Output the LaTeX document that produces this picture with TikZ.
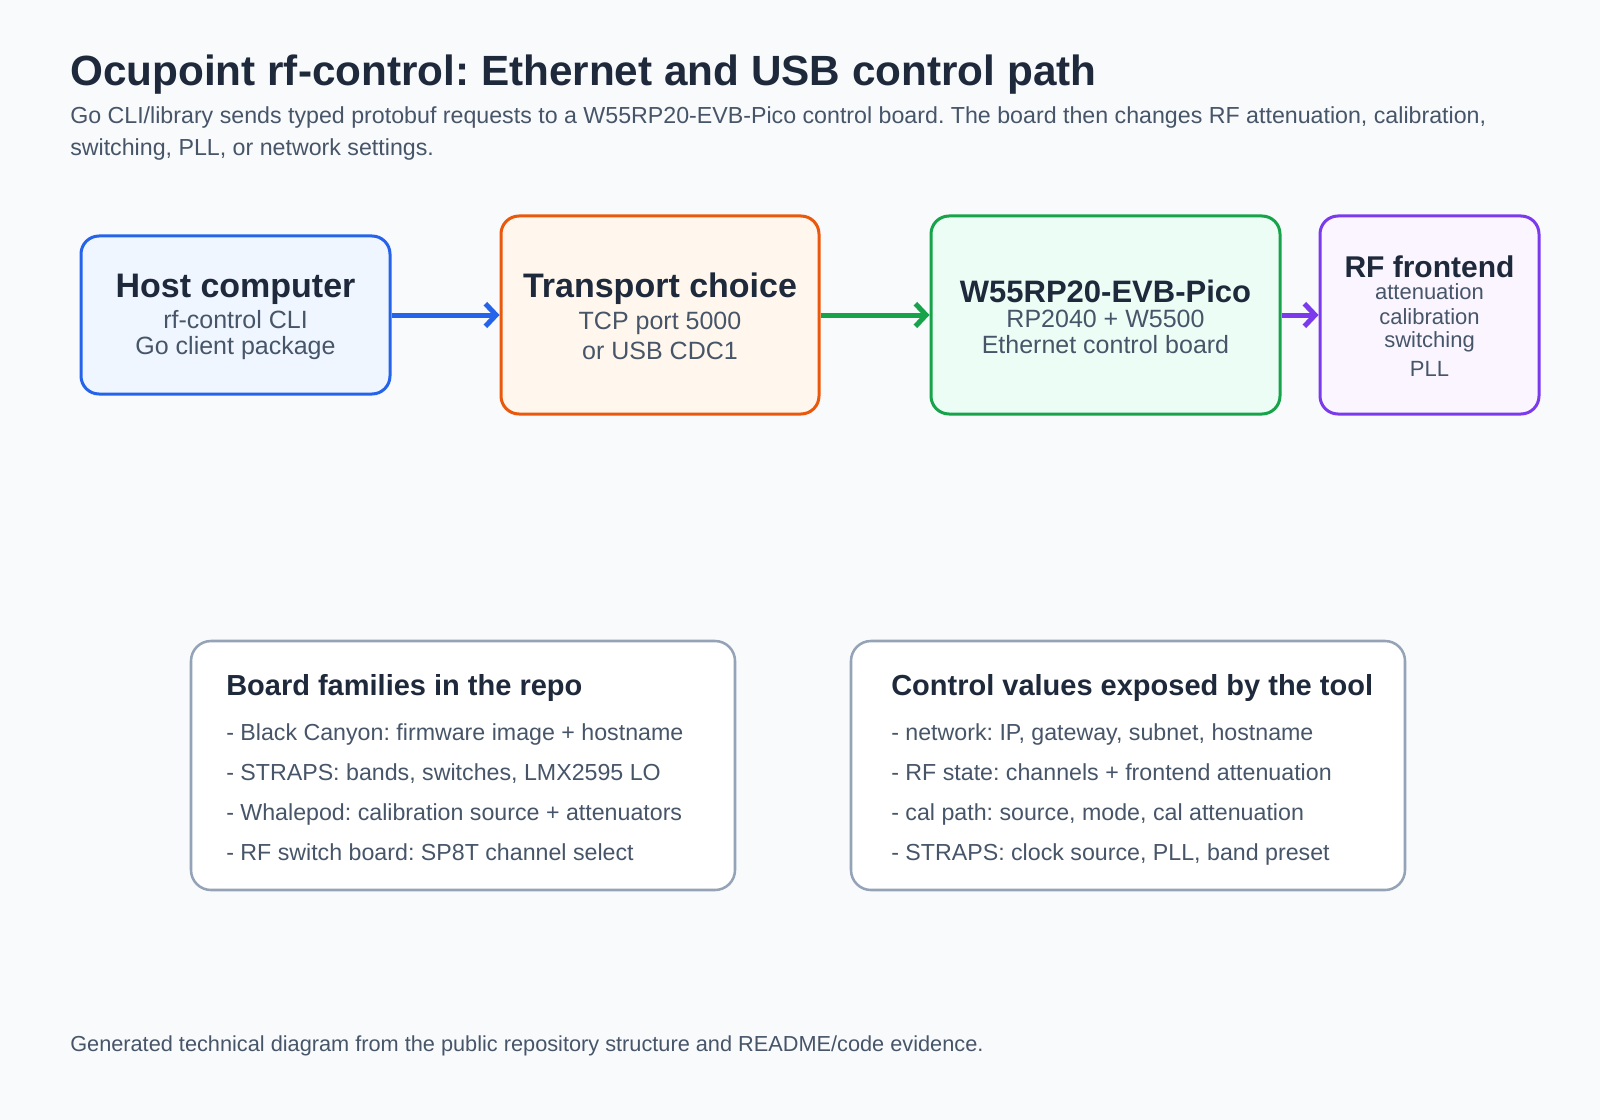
\documentclass[tikz,border=0pt]{standalone}
\usepackage{fontspec}
\setmainfont{Liberation Sans}
\usetikzlibrary{arrows.meta}
\frenchspacing

\definecolor{bgpage}{HTML}{F8FAFC}
\definecolor{ink}{HTML}{1E293B}
\definecolor{muted}{HTML}{475569}
\definecolor{hostline}{HTML}{2563EB}
\definecolor{hostfill}{HTML}{EFF6FF}
\definecolor{transline}{HTML}{EA580C}
\definecolor{transfill}{HTML}{FFF7ED}
\definecolor{boardline}{HTML}{16A34A}
\definecolor{boardfill}{HTML}{ECFDF5}
\definecolor{rfline}{HTML}{7C3AED}
\definecolor{rffill}{HTML}{FAF5FF}
\definecolor{noteline}{HTML}{94A3B8}

\begin{document}
\begin{tikzpicture}[x=0.75pt,y=-0.75pt,
  box/.style={draw, line width=2.25pt, rounded corners=13.5pt, inner sep=0pt, minimum height=148.5pt},
  notebox/.style={draw=noteline, fill=white, line width=1.9pt, rounded corners=15pt, inner sep=0pt, minimum height=186.75pt},
  flow/.style={line width=3.75pt, -{Straight Barb[length=8pt,width=17pt]}},
  boxtitle/.style={anchor=base, inner sep=0pt, text=ink, font=\fontsize{25.5}{30}\selectfont\bfseries},
  boxtext/.style={anchor=base, inner sep=0pt, text=muted, font=\fontsize{18.75}{22}\selectfont},
  notetitle/.style={anchor=base west, inner sep=0pt, text=ink, font=\fontsize{21.75}{26}\selectfont\bfseries},
  noteitem/.style={anchor=base west, inner sep=0pt, text=muted, font=\fontsize{17.4}{20}\selectfont}
]
\useasboundingbox (0,0) rectangle (1600,1120);
\fill[bgpage] (0,0) rectangle (1600,1120);

% title
\node[anchor=base west, inner sep=0pt, text=ink, font=\fontsize{31.7}{36}\selectfont\bfseries] (title) at (70,86)
  {Ocupoint rf-control: Ethernet and USB control path};
\node[anchor=base west, inner sep=0pt, text=muted, font=\fontsize{17.4}{20}\selectfont] (lead1) at (70,124)
  {Go CLI/library sends typed protobuf requests to a W55RP20-EVB-Pico control board. The board then changes RF attenuation, calibration,};
\node[anchor=base west, inner sep=0pt, text=muted, font=\fontsize{17.4}{20}\selectfont] (lead2) at (70,156)
  {switching, PLL, or network settings.};

% control path
\node[box, draw=hostline, fill=hostfill, minimum width=231.75pt, minimum height=118.5pt] (host) at (235.5,315) {};
\node[box, draw=transline, fill=transfill, minimum width=238.5pt] (trans) at (660,315) {};
\node[box, draw=boardline, fill=boardfill, minimum width=261.75pt] (board) at (1105.5,315) {};
\node[box, draw=rfline, fill=rffill, minimum width=164.25pt] (rf) at (1429.5,315) {};

\node[boxtitle] (hostA) at (235.5,297) {Host computer};
\node[boxtext] (hostB) at (235.5,328) {rf-control CLI};
\node[boxtext] (hostC) at (235.5,354) {Go client package};

\node[boxtitle] (transA) at (660,297) {Transport choice};
\node[boxtext] (transB) at (660,329) {TCP port 5000};
\node[boxtext] (transC) at (660,359) {or USB CDC1};

\node[boxtitle, font=\fontsize{23.25}{28}\selectfont\bfseries] (boardA) at (1105.5,302) {W55RP20-EVB-Pico};
\node[boxtext] (boardB) at (1105.5,327) {RP2040 + W5500};
\node[boxtext] (boardC) at (1105.5,353) {Ethernet control board};

\node[boxtitle, font=\fontsize{22.5}{27}\selectfont\bfseries] (rfA) at (1429.5,277) {RF frontend};
\node[boxtext, font=\fontsize{16.5}{20}\selectfont] (rfB) at (1429.5,299) {attenuation};
\node[boxtext, font=\fontsize{16.5}{20}\selectfont] (rfC) at (1429.5,324) {calibration};
\node[boxtext, font=\fontsize{16.5}{20}\selectfont] (rfD) at (1429.5,347) {switching};
\node[boxtext, font=\fontsize{16.5}{20}\selectfont] (rfE) at (1429.5,376) {PLL};

\draw[flow, hostline] (host.east) -- (trans.west);
\draw[flow, boardline] (trans.east) -- (board.west);
\draw[flow, rfline] (board.east) -- (rf.west);

% notes
\node[notebox, minimum width=408pt] (families) at (463,765.5) {};
\node[notetitle] (famA) at (226,695) {Board families in the repo};
\node[noteitem] (famB) at (226,740) {- Black Canyon: firmware image + hostname};
\node[noteitem] (famC) at (226,780) {- STRAPS: bands, switches, LMX2595 LO};
\node[noteitem] (famD) at (226,820) {- Whalepod: calibration source + attenuators};
\node[noteitem] (famE) at (226,860) {- RF switch board: SP8T channel select};

\node[notebox, minimum width=415.5pt] (values) at (1128,765.5) {};
\node[notetitle] (valA) at (891,695) {Control values exposed by the tool};
\node[noteitem] (valB) at (891,740) {- network: IP, gateway, subnet, hostname};
\node[noteitem] (valC) at (891,780) {- RF state: channels + frontend attenuation};
\node[noteitem] (valD) at (891,820) {- cal path: source, mode, cal attenuation};
\node[noteitem] (valE) at (891,860) {- STRAPS: clock source, PLL, band preset};

\node[anchor=base west, inner sep=0pt, text=muted, font=\fontsize{16.3}{20}\selectfont] (footer) at (70,1051)
  {Generated technical diagram from the public repository structure and README/code evidence.};
\end{tikzpicture}
\end{document}
